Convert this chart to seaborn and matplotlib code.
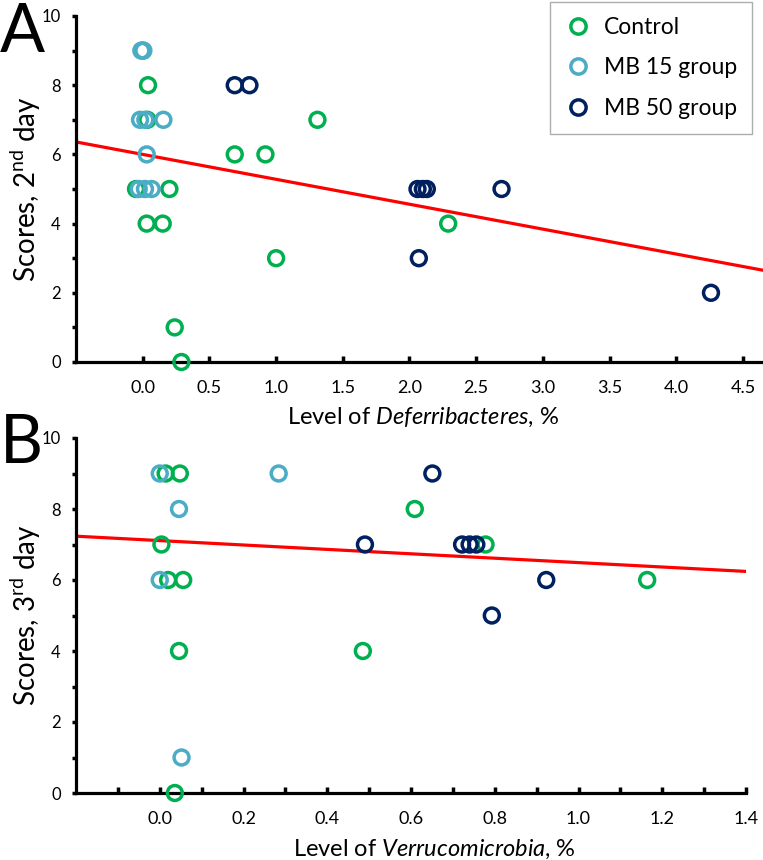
import numpy as np
import pandas as pd
import matplotlib
matplotlib.use("Agg")
import matplotlib.pyplot as plt
from matplotlib.lines import Line2D
import seaborn as sns

# ---- data: panel A (Deferribacteres vs 2nd day scores) ----
a_control_x = [0.04, 0.035, -0.05, 0.20, 0.03, 0.15, 0.24, 0.29, 0.69, 0.92, 1.31, 1.00, 2.29]
a_control_y = [8, 7, 5, 5, 4, 4, 1, 0, 6, 6, 7, 3, 4]
a_mb15_x = [-0.01, 0.0, 0.005, -0.02, 0.02, 0.155, 0.03, -0.03, 0.017, 0.067]
a_mb15_y = [9, 9, 9, 7, 7, 7, 6, 5, 5, 5]
a_mb50_x = [0.69, 0.80, 2.06, 2.10, 2.13, 2.69, 2.07, 4.26]
a_mb50_y = [8, 8, 5, 5, 5, 5, 3, 2]
a_fit = (6.0, -0.72)  # intercept, slope

# ---- data: panel B (Verrucomicrobia vs 3rd day scores) ----
b_control_x = [0.014, 0.048, 0.004, 0.02, 0.056, 0.046, 0.485, 0.036, 0.609, 0.778, 1.164]
b_control_y = [9, 9, 7, 6, 6, 4, 4, 0, 8, 7, 6]
b_mb15_x = [0.0, 0.284, 0.046, 0.0, 0.052]
b_mb15_y = [9, 9, 8, 6, 1]
b_mb50_x = [0.49, 0.651, 0.722, 0.740, 0.756, 0.923, 0.793]
b_mb50_y = [7, 9, 7, 7, 7, 6, 5]
b_fit = (7.11, -0.62)

groups = ["Control", "MB 15 group", "MB 50 group"]
colors = ["#00B050", "#4BACC6", "#002060"]
palette = dict(zip(groups, colors))

FONT = "Lato"
plt.rcParams["font.family"] = [FONT, "DejaVu Sans"]
plt.rcParams["mathtext.fontset"] = "custom"
plt.rcParams["mathtext.rm"] = FONT
plt.rcParams["mathtext.it"] = FONT + ":italic"


def make_df(cx, cy, m15x, m15y, m50x, m50y):
    return pd.concat([
        pd.DataFrame({"x": cx, "y": cy, "group": groups[0]}),
        pd.DataFrame({"x": m15x, "y": m15y, "group": groups[1]}),
        pd.DataFrame({"x": m50x, "y": m50y, "group": groups[2]}),
    ], ignore_index=True)


def draw_panel(ax, df, fit, xlim, xticks, xminor, xlabel, ylabel):
    ax.set_xlim(*xlim)
    ax.set_ylim(0, 10)
    xs = np.array(xlim)
    sns.lineplot(x=xs, y=fit[0] + fit[1] * xs, ax=ax, color="#FF0000", lw=2.3, zorder=2)
    sns.scatterplot(data=df, x="x", y="y", hue="group", palette=palette, s=115,
                    ax=ax, legend=False, zorder=3, clip_on=False)
    # hollow circles: move hue colours to the edges
    coll = ax.collections[-1]
    coll.set_edgecolors(coll.get_facecolors())
    coll.set_facecolors("none")
    coll.set_linewidths(2.5)

    for s in ["top", "right"]:
        ax.spines[s].set_visible(False)
    for s in ["left", "bottom"]:
        ax.spines[s].set_linewidth(2.3)
        ax.spines[s].set_color("black")
    ax.set_xticks(xticks)
    ax.set_xticklabels([f"{t:.1f}" for t in xticks])
    if xminor is not None:
        ax.set_xticks(xminor, minor=True)
    ax.set_yticks(range(0, 11, 2))
    ax.set_yticks(range(1, 10, 2), minor=True)
    ax.tick_params(axis="x", which="both", direction="in", length=4, width=2.5,
                   labelsize=13, pad=13, colors="black")
    ax.tick_params(axis="y", which="both", direction="out", length=3, width=2.5,
                   labelsize=12, pad=8, colors="black")
    ax.set_xlabel(xlabel, fontsize=17)
    ax.set_ylabel(ylabel, fontsize=20)
    ax.grid(False)
    ax.set_facecolor("white")


fig = plt.figure(figsize=(7.63, 8.6), dpi=100)
ax_a = fig.add_axes([76 / 763, 1 - 362 / 860, 687 / 763, 346 / 860])
ax_b = fig.add_axes([76 / 763, 1 - 793 / 860, 670 / 763, 355 / 860])

df_a = make_df(a_control_x, a_control_y, a_mb15_x, a_mb15_y, a_mb50_x, a_mb50_y)
df_b = make_df(b_control_x, b_control_y, b_mb15_x, b_mb15_y, b_mb50_x, b_mb50_y)

draw_panel(ax_a, df_a, a_fit, (-0.5, 4.65), np.arange(0, 4.51, 0.5), None,
           r"Level of $\it{Deferribacteres}$, %", r"Scores, 2$^{\mathregular{nd}}$ day")
draw_panel(ax_b, df_b, b_fit, (-0.2, 1.4), np.arange(0, 1.41, 0.2), np.arange(-0.1, 1.35, 0.1),
           r"Level of $\it{Verrucomicrobia}$, %", r"Scores, 3$^{\mathregular{rd}}$ day")
ax_a.xaxis.set_label_coords(0.505, -0.125)
ax_b.xaxis.set_label_coords(0.535, -0.125)
ax_a.yaxis.set_label_coords(-0.048, 0.5)
ax_b.yaxis.set_label_coords(-0.049, 0.5)

fig.text(0.0, 1 - 52 / 860, "A", fontsize=48, ha="left", va="baseline")
fig.text(0.0, 1 - 463 / 860, "B", fontsize=48, ha="left", va="baseline")

handles = [Line2D([0], [0], marker="o", linestyle="none", markerfacecolor="none",
                  markeredgecolor=c, markeredgewidth=2.5, markersize=11) for c in colors]
leg = fig.legend(handles, groups, loc="upper right", bbox_to_anchor=(752 / 763, 1 - 2 / 860),
                 borderaxespad=0, fontsize=16.5, frameon=True, fancybox=False,
                 edgecolor="#999999", handletextpad=0.6, labelspacing=0.85,
                 borderpad=0.65, handlelength=1.1)
leg.get_frame().set_linewidth(1.0)

fig.savefig("out.png", dpi=100, facecolor="white")
